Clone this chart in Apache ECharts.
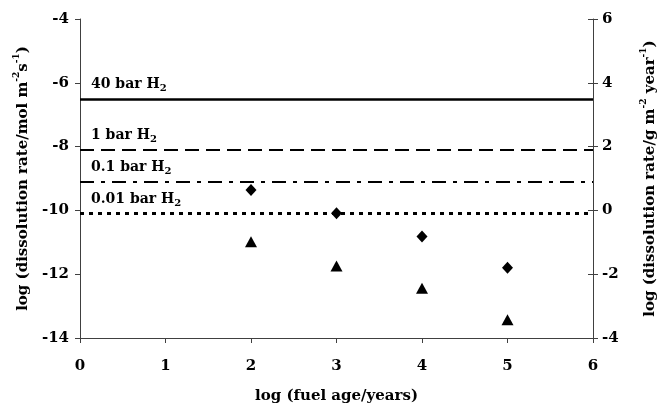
<!DOCTYPE html>
<html><head><meta charset="utf-8">
<script src="https://cdn.jsdelivr.net/npm/echarts@6/dist/echarts.min.js"></script>
<style>html,body{margin:0;padding:0;background:#fff}#c{width:663px;height:407px}</style>
</head><body><div id="c"></div>
<script>
var fuelAge = [2, 3, 4, 5];
var diamondRates = [-9.36, -10.09, -10.82, -11.8];
var triangleRates = [-10.98, -11.74, -12.44, -13.43];
var h2Levels = [-6.5, -8.1, -9.1, -10.1];
var h2Labels = ['40 bar H{sub|2}', '1 bar H{sub|2}', '0.1 bar H{sub|2}', '0.01 bar H{sub|2}'];
var leftTicks = {min: -14, max: -4, interval: 2};
var rightTicks = {min: -4, max: 6, interval: 2};
var xTicks = {min: 0, max: 6, interval: 1};

var FONT = '"DejaVu Serif", "Liberation Serif", serif';
var AX = '#404040';
var FS = 15;
var lineStyles = [
  {type: 'solid', width: 2.6},
  {type: [14, 7], width: 2},
  {type: [14, 7, 4, 7], width: 2},
  {type: [4, 5], width: 3}
];
var richTxt = {
  t: {fontFamily: FONT, fontWeight: 'bold', fontSize: FS, color: '#000', lineHeight: 22, verticalAlign: 'middle'},
  sub: {fontFamily: FONT, fontWeight: 'bold', fontSize: 10, color: '#000', padding: [8, 0, 0, 0]},
  sup: {fontFamily: FONT, fontWeight: 'bold', fontSize: 9, color: '#000', lineHeight: 22, verticalAlign: 'top'}
};

var markData = h2Levels.map(function (v, i) {
  return {
    yAxis: v,
    lineStyle: {color: '#000', type: lineStyles[i].type, width: lineStyles[i].width},
    label: {show: true, position: 'insideStartTop', formatter: h2Labels[i], distance: [11, 5],
      fontFamily: FONT, fontWeight: 'bold', fontSize: 14, color: '#000', rich: richTxt}
  };
});

var chart = echarts.init(document.getElementById('c'), null, {renderer: 'canvas'});
chart.setOption({
  animation: false,
  grid: {left: 80, right: 70, top: 19, bottom: 69, containLabel: false, outerBoundsMode: 'none'},
  xAxis: {
    type: 'value', min: xTicks.min, max: xTicks.max, interval: xTicks.interval,
    name: 'log (fuel age/years)', nameLocation: 'middle', nameGap: 51,
    nameTextStyle: {fontFamily: FONT, fontWeight: 'bold', fontSize: FS, color: '#000'},
    axisLine: {onZero: false, lineStyle: {color: AX}}, axisTick: {lineStyle: {color: AX}, length: 5},
    axisLabel: {fontFamily: FONT, fontWeight: 'bold', fontSize: FS, color: '#000', margin: 21},
    splitLine: {show: false}
  },
  yAxis: [{
    type: 'value', position: 'left', min: leftTicks.min, max: leftTicks.max, interval: leftTicks.interval,
    name: '{t|log (dissolution rate/mol m}{sup|-2}{t|s}{sup|-1}{t|)}', nameLocation: 'middle', nameGap: 34, nameRotate: 90,
    nameTextStyle: {fontFamily: FONT, fontWeight: 'bold', fontSize: FS, color: '#000', rich: richTxt},
    axisLine: {show: true, onZero: false, lineStyle: {color: AX}}, axisTick: {show: true, lineStyle: {color: AX}, length: 5},
    axisLabel: {fontFamily: FONT, fontWeight: 'bold', fontSize: FS, color: '#000', margin: 11},
    splitLine: {show: false}
  }, {
    type: 'value', position: 'right', min: rightTicks.min, max: rightTicks.max, interval: rightTicks.interval,
    name: '{t|log (dissolution rate/g m}{sup|-2}{t| year}{sup|-1}{t|)}', nameLocation: 'middle', nameGap: 46, nameRotate: 90,
    nameTextStyle: {fontFamily: FONT, fontWeight: 'bold', fontSize: FS, color: '#000', rich: richTxt},
    axisLine: {show: true, onZero: false, lineStyle: {color: AX}}, axisTick: {show: true, lineStyle: {color: AX}, length: 5},
    axisLabel: {fontFamily: FONT, fontWeight: 'bold', fontSize: FS, color: '#000', margin: 9},
    splitLine: {show: false}
  }, {
    type: 'value', position: 'right', min: rightTicks.min, max: rightTicks.max, interval: rightTicks.interval,
    axisLine: {show: false, onZero: false}, axisTick: {show: true, inside: true, lineStyle: {color: AX}, length: 5},
    axisLabel: {show: false}, splitLine: {show: false}
  }],
  series: [{
    type: 'scatter', yAxisIndex: 0, symbol: 'diamond', symbolSize: [11, 12],
    itemStyle: {color: '#000', opacity: 1},
    data: fuelAge.map(function (x, i) { return [x, diamondRates[i]]; }),
    markLine: {silent: true, symbol: ['none', 'none'], data: markData}
  }, {
    type: 'scatter', yAxisIndex: 0, symbol: 'triangle', symbolSize: [12, 11],
    itemStyle: {color: '#000', opacity: 1},
    data: fuelAge.map(function (x, i) { return [x, triangleRates[i]]; })
  }]
});
</script></body></html>
